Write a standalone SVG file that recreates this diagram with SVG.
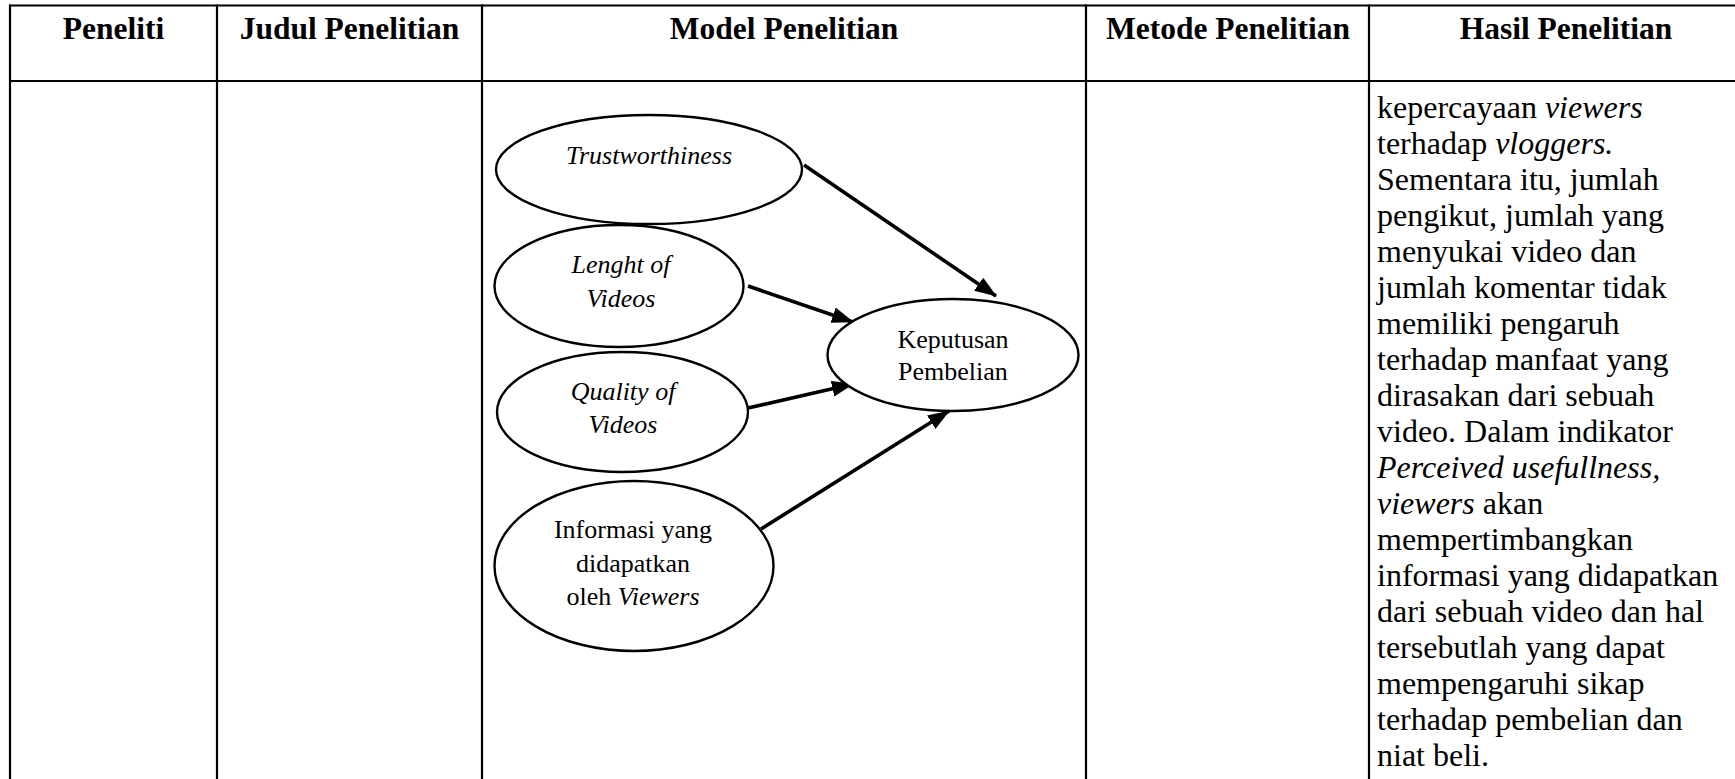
<svg xmlns="http://www.w3.org/2000/svg" width="1735" height="779" viewBox="0 0 1735 779">
  <style>
    .grid { stroke: #000; stroke-width: 2.2; fill: none; }
    .head { font-family: "Liberation Serif", "Times New Roman", serif; font-size: 31.5px; font-weight: bold; text-anchor: middle; fill: #000; }
    .body { font-family: "Liberation Serif", "Times New Roman", serif; font-size: 32px; fill: #000; }
    .node ellipse { fill: #fff; stroke: #000; stroke-width: 2.4; }
    .node text { font-family: "Liberation Serif", "Times New Roman", serif; font-size: 26px; text-anchor: middle; fill: #000; }
    .it { font-style: italic; }
    .edge { stroke: #000; stroke-width: 3.6; fill: none; marker-end: url(#arrow); }
  </style>
  <defs>
    <marker id="arrow" markerUnits="userSpaceOnUse" markerWidth="24" markerHeight="18" refX="21" refY="8" orient="auto">
      <path d="M0,0 L22,8 L0,16 z" fill="#000"/>
    </marker>
  </defs>

  <rect x="0" y="0" width="1735" height="779" fill="#fff"/>

  <!-- table grid -->
  <g id="table-grid">
    <line class="grid" x1="9" y1="5.5" x2="1735" y2="5.5"/>
    <line class="grid" x1="9" y1="81" x2="1735" y2="81"/>
    <line class="grid" x1="10" y1="4.5" x2="10" y2="779"/>
    <line class="grid" x1="217" y1="4.5" x2="217" y2="779"/>
    <line class="grid" x1="482" y1="4.5" x2="482" y2="779"/>
    <line class="grid" x1="1086" y1="4.5" x2="1086" y2="779"/>
    <line class="grid" x1="1369" y1="4.5" x2="1369" y2="779"/>
  </g>

  <!-- column headings -->
  <g id="table-headings">
    <text class="head" x="113.5" y="39">Peneliti</text>
    <text class="head" x="349.5" y="39">Judul Penelitian</text>
    <text class="head" x="784" y="39">Model Penelitian</text>
    <text class="head" x="1228" y="39">Metode Penelitian</text>
    <text class="head" x="1566" y="39">Hasil Penelitian</text>
  </g>

  <!-- research model -->
  <g id="connectors">
    <line class="edge" x1="804" y1="165" x2="996" y2="296"/>
    <line class="edge" x1="748" y1="286" x2="853" y2="322"/>
    <line class="edge" x1="748" y1="408" x2="853" y2="384"/>
    <line class="edge" x1="761" y1="529" x2="949" y2="411"/>
  </g>

  <g id="node-trustworthiness" class="node">
    <ellipse cx="649" cy="169.5" rx="153" ry="54.5"/>
    <text x="649" y="164" class="it">Trustworthiness</text>
  </g>

  <g id="node-length" class="node">
    <ellipse cx="619" cy="286" rx="124.5" ry="61"/>
    <text x="621" y="273" class="it">Lenght of</text>
    <text x="621" y="307" class="it">Videos</text>
  </g>

  <g id="node-quality" class="node">
    <ellipse cx="622.5" cy="412" rx="125.5" ry="60"/>
    <text x="623" y="400" class="it">Quality of</text>
    <text x="623" y="433" class="it">Videos</text>
  </g>

  <g id="node-informasi" class="node">
    <ellipse cx="634" cy="566" rx="139.5" ry="85"/>
    <text x="633" y="538">Informasi yang</text>
    <text x="633" y="572">didapatkan</text>
    <text x="633" y="605">oleh <tspan class="it">Viewers</tspan></text>
  </g>

  <g id="node-keputusan" class="node">
    <ellipse cx="953" cy="355" rx="125.5" ry="56"/>
    <text x="953" y="348">Keputusan</text>
    <text x="953" y="380">Pembelian</text>
  </g>

  <!-- findings column -->
  <g id="findings-text" class="body">
    <text x="1377" y="117.5">kepercayaan <tspan class="it">viewers</tspan></text>
    <text x="1377" y="153.5">terhadap <tspan class="it">vloggers.</tspan></text>
    <text x="1377" y="189.6">Sementara itu, jumlah</text>
    <text x="1377" y="225.6">pengikut, jumlah yang</text>
    <text x="1377" y="261.7">menyukai video dan</text>
    <text x="1377" y="297.7">jumlah komentar tidak</text>
    <text x="1377" y="333.8">memiliki pengaruh</text>
    <text x="1377" y="369.8">terhadap manfaat yang</text>
    <text x="1377" y="405.9">dirasakan dari sebuah</text>
    <text x="1377" y="441.9">video. Dalam indikator</text>
    <text x="1377" y="478" class="it">Perceived usefullness,</text>
    <text x="1377" y="514"><tspan class="it">viewers</tspan> akan</text>
    <text x="1377" y="550.1">mempertimbangkan</text>
    <text x="1377" y="586.1">informasi yang didapatkan</text>
    <text x="1377" y="622.2">dari sebuah video dan hal</text>
    <text x="1377" y="658.2">tersebutlah yang dapat</text>
    <text x="1377" y="694.3">mempengaruhi sikap</text>
    <text x="1377" y="730.3">terhadap pembelian dan</text>
    <text x="1377" y="766.4">niat beli.</text>
  </g>
</svg>
